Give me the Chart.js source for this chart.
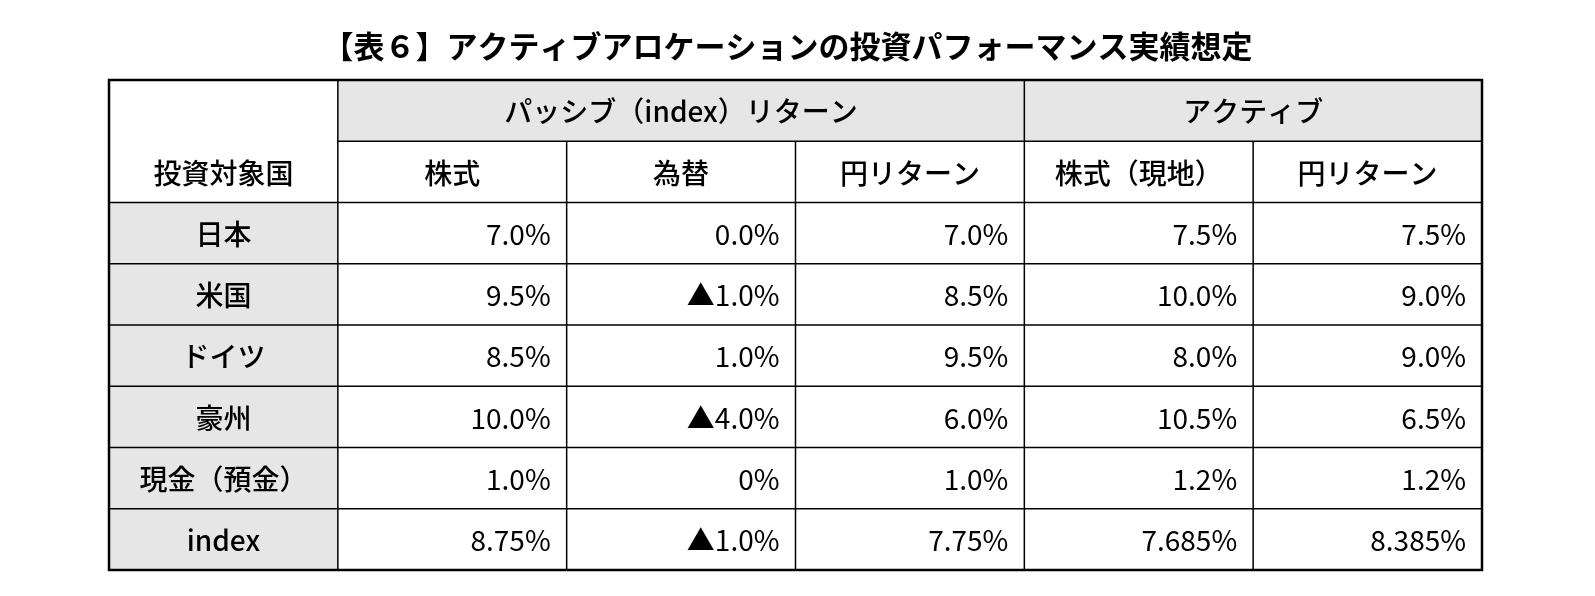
<!DOCTYPE html>
<html><head><meta charset="utf-8">
<script src="https://cdn.jsdelivr.net/npm/chart.js@4"></script>
<style>html,body{margin:0;background:#fff}</style>
</head><body>
<canvas id="c" width="1595" height="596"></canvas>
<script>
// table content
const title = '【表６】アクティブアロケーションの投資パフォーマンス実績想定';
const groupHeaders = [
  { label: 'パッシブ（index）リターン', from: 1, to: 4 },
  { label: 'アクティブ', from: 4, to: 6 }
];
const columnHeaders = ['投資対象国', '株式', '為替', '円リターン', '株式（現地）', '円リターン'];
const countries = ['日本', '米国', 'ドイツ', '豪州', '現金（預金）', 'index'];
const passiveStock = ['7.0%', '9.5%', '8.5%', '10.0%', '1.0%', '8.75%'];
const passiveFx = ['0.0%', '▲1.0%', '1.0%', '▲4.0%', '0%', '▲1.0%'];
const passiveYen = ['7.0%', '8.5%', '9.5%', '6.0%', '1.0%', '7.75%'];
const activeStock = ['7.5%', '10.0%', '8.0%', '10.5%', '1.2%', '7.685%'];
const activeYen = ['7.5%', '9.0%', '9.0%', '6.5%', '1.2%', '8.385%'];

const valueCols = [passiveStock, passiveFx, passiveYen, activeStock, activeYen];
const nRows = 2 + countries.length;
const nCols = columnHeaders.length;
const gothic = '"Noto Sans CJK JP", "Noto Sans", sans-serif';

const tablePlugin = {
  id: 'table',
  afterDraw(chart) {
    const ctx = chart.ctx, xs = chart.scales.x, ys = chart.scales.y;
    const X = v => xs.getPixelForValue(v), Y = v => ys.getPixelForValue(v);
    ctx.save();
    // title
    ctx.fillStyle = '#000';
    ctx.font = 'bold 31px ' + gothic;
    ctx.textAlign = 'center'; ctx.textBaseline = 'middle';
    ctx.fillText(title, (X(0) + X(nCols)) / 2 - 8, 46);
    // grey fills
    ctx.fillStyle = '#e6e6e6';
    ctx.fillRect(X(1), Y(0), X(nCols) - X(1), Y(1) - Y(0));
    ctx.fillRect(X(0), Y(2), X(1) - X(0), Y(nRows) - Y(2));
    // grid lines
    ctx.strokeStyle = '#000'; ctx.lineWidth = 1.5;
    ctx.beginPath();
    for (let r = 0; r <= nRows; r++) {
      const x0 = r === 1 ? X(1) : X(0);
      ctx.moveTo(x0, Y(r)); ctx.lineTo(X(nCols), Y(r));
    }
    for (let c = 0; c <= nCols; c++) {
      const spansTop = groupHeaders.some(g => c > g.from && c < g.to);
      ctx.moveTo(X(c), spansTop ? Y(1) : Y(0)); ctx.lineTo(X(c), Y(nRows));
    }
    ctx.stroke();
    ctx.lineWidth = 2.5;
    ctx.strokeRect(X(0), Y(0), X(nCols) - X(0), Y(nRows) - Y(0));
    // headers
    ctx.fillStyle = '#000';
    ctx.font = '500 28px ' + gothic;
    ctx.textAlign = 'center';
    groupHeaders.forEach(g => ctx.fillText(g.label, (X(g.from) + X(g.to)) / 2, (Y(0) + Y(1)) / 2 + 1));
    columnHeaders.forEach((h, c) => ctx.fillText(h, (X(c) + X(c + 1)) / 2, (Y(1) + Y(2)) / 2 + 1));
    countries.forEach((h, r) => ctx.fillText(h, (X(0) + X(1)) / 2, (Y(r + 2) + Y(r + 3)) / 2 + 1));
    // values
    ctx.font = '28px ' + gothic;
    ctx.textAlign = 'right';
    valueCols.forEach((col, c) => col.forEach((v, r) => {
      ctx.fillText(v, X(c + 2) - 16, (Y(r + 2) + Y(r + 3)) / 2 + 1);
    }));
    ctx.restore();
  }
};

new Chart(document.getElementById('c'), {
  type: 'scatter',
  data: { datasets: [{ data: [] }] },
  options: {
    responsive: false, animation: false,
    layout: { padding: { left: 109, right: 113, top: 80, bottom: 26 } },
    plugins: { legend: { display: false }, tooltip: { enabled: false } },
    scales: {
      x: { type: 'linear', min: 0, max: nCols, display: false },
      y: { type: 'linear', min: 0, max: nRows, reverse: true, display: false }
    }
  },
  plugins: [tablePlugin]
});
</script>
</body></html>
